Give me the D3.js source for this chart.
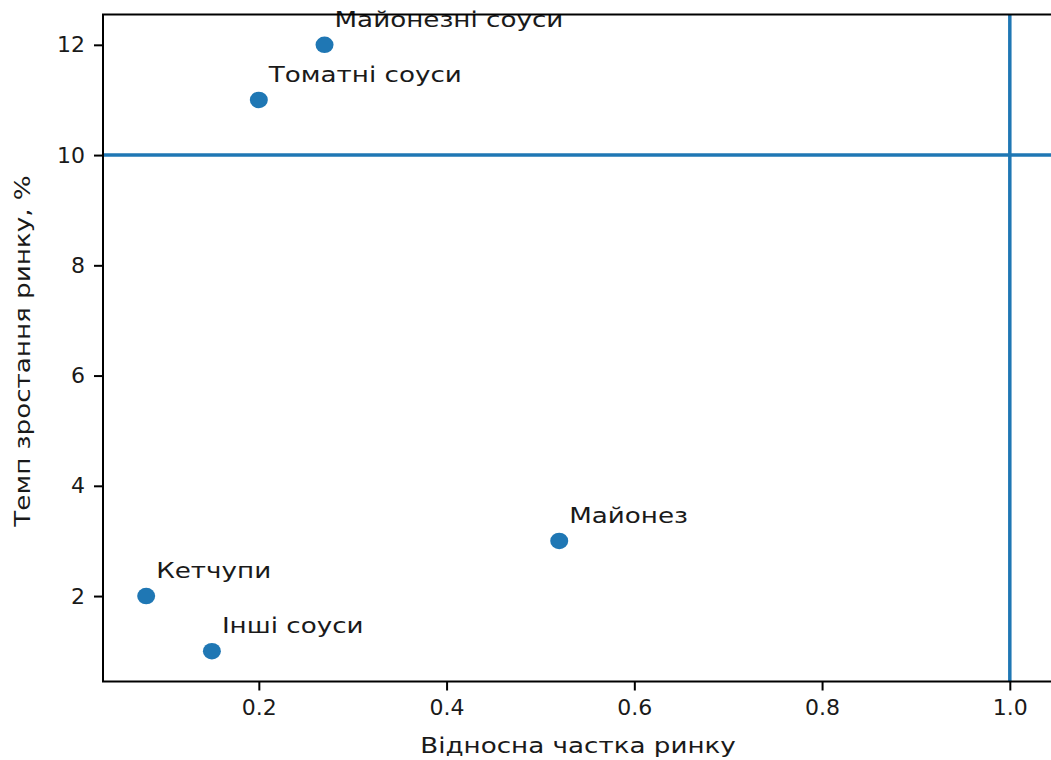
<!DOCTYPE html>
<html><head><meta charset="utf-8">
<script src="https://cdn.jsdelivr.net/npm/d3@7"></script>
<style>body{margin:0;background:#fff}svg{display:block}text{font-family:"DejaVu Sans",sans-serif;fill:#1a1a1a}</style>
</head><body>
<svg id="c" width="1051" height="760"></svg>
<script>
const names = ["Майонезні соуси", "Томатні соуси", "Майонез", "Кетчупи", "Інші соуси"];
const share = [0.27, 0.2, 0.52, 0.08, 0.15];
const growth = [12, 11, 3, 2, 1];
const xTicks = [0.2, 0.4, 0.6, 0.8, 1.0];
const yTicks = [2, 4, 6, 8, 10, 12];
const hLine = 10, vLine = 1.0;
const xTitle = "Відносна частка ринку";
const yTitle = "Темп зростання ринку, %";

const svg = d3.select("#c");
const L = 103, T = 14.5, R = 1053, B = 681.5;
const x = d3.scaleLinear().domain([0.034, 1.046]).range([L, R]);
const y = d3.scaleLinear().domain([0.45, 12.55]).range([B, T]);
const blue = "#1f77b4", fs = 22, sx = 1.19;

// reference lines
svg.append("line").attr("x1", L).attr("x2", R).attr("y1", y(hLine)).attr("y2", y(hLine))
  .attr("stroke", blue).attr("stroke-width", 3.5);
svg.append("line").attr("x1", x(vLine)).attr("x2", x(vLine)).attr("y1", T).attr("y2", B)
  .attr("stroke", blue).attr("stroke-width", 3.5);

// points
const data = names.map((n, i) => ({n, s: share[i], g: growth[i]}));
svg.selectAll("ellipse.p").data(data).join("ellipse").attr("class", "p")
  .attr("cx", d => x(d.s)).attr("cy", d => y(d.g)).attr("rx", 9).attr("ry", 8.3).attr("fill", blue);
svg.selectAll("text.lbl").data(data).join("text").attr("class", "lbl")
  .attr("transform", d => `translate(${x(d.s) + 10},${y(d.g) - 18}) scale(${sx},1)`)
  .attr("font-size", fs).text(d => d.n);

// axes
const xa = svg.append("g").attr("transform", `translate(0,${B})`)
  .call(d3.axisBottom(x).tickValues(xTicks).tickFormat(d3.format(".1f")).tickSizeInner(9).tickSizeOuter(0).tickPadding(9));
const ya = svg.append("g").attr("transform", `translate(${L},0)`)
  .call(d3.axisLeft(y).tickValues(yTicks).tickFormat(d3.format("d")).tickSizeInner(9).tickSizeOuter(0).tickPadding(9));
[xa, ya].forEach(g => {
  g.select(".domain").remove();
  g.selectAll(".tick line").attr("stroke", "#000").attr("stroke-width", 2);
  g.selectAll(".tick text").attr("font-size", fs).attr("font-family", '"DejaVu Sans",sans-serif').attr("fill", "#1a1a1a");
});
// spines
svg.append("rect").attr("x", L).attr("y", T).attr("width", R - L).attr("height", B - T)
  .attr("fill", "none").attr("stroke", "#000").attr("stroke-width", 2);

svg.append("text").attr("transform", `translate(${(L + R) / 2},753) scale(${sx},1)`).attr("text-anchor", "middle")
  .attr("font-size", fs).text(xTitle);
svg.append("text").attr("transform", `translate(30,351) rotate(-90) scale(${sx},1)`)
  .attr("text-anchor", "middle").attr("font-size", fs).text(yTitle);
</script>
</body></html>
